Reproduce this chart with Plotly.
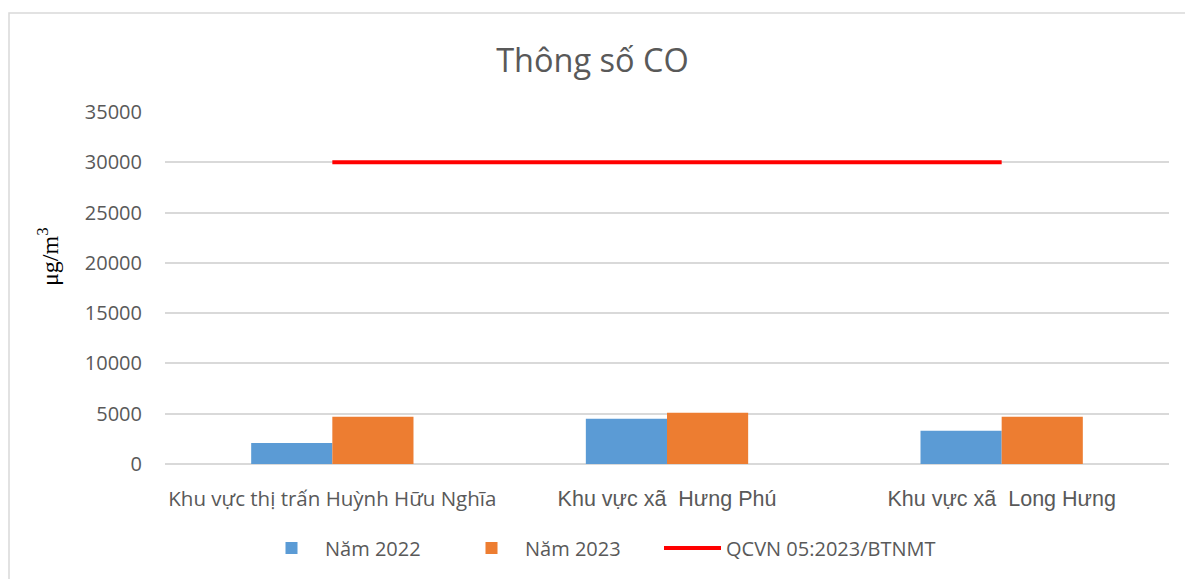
import plotly.graph_objects as go

categories = ["Khu vực thị trấn Huỳnh Hữu Nghĩa", "Khu vực xã\u00a0 Hưng Phú", "Khu vực xã\u00a0 Long Hưng"]
values_2022 = [2100, 4500, 3300]
values_2023 = [4700, 5100, 4700]
qcvn_limit = [30000, 30000, 30000]
y_ticks = [0, 5000, 10000, 15000, 20000, 25000, 30000, 35000]

W, H = 1185, 579
L, R, T, B = 165, 16, 112, 115
pw, ph = W - L - R, H - T - B

def px(x):
    return (x - L) / pw

def py(y):
    return (H - B - y) / ph

txt = "#595959"
font_family = "Open Sans"

# first label in the sans UI font, the other two in an Arial-like face (as in the reference)
tick_text = [categories[0]] + [
    '<span style="font-family:Liberation Sans;font-size:21.5px">%s</span>' % c for c in categories[1:]
]

fig = go.Figure()
fig.add_trace(go.Bar(name="Năm 2022", x=categories, y=values_2022, marker=dict(color="#5B9BD5", line=dict(width=0)),
                     legend="legend"))
fig.add_trace(go.Bar(name="Năm 2023", x=categories, y=values_2023, marker=dict(color="#ED7D31", line=dict(width=0)),
                     legend="legend"))
fig.add_trace(go.Scatter(name="QCVN 05:2023/BTNMT", x=categories, y=qcvn_limit, mode="lines",
                         line=dict(color="#FF0000", width=4), legend="legend2"))

fig.update_layout(
    width=W, height=H,
    margin=dict(l=L, r=R, t=T, b=B),
    paper_bgcolor="white", plot_bgcolor="white",
    barmode="group", bargap=0.515, bargroupgap=0,
    font=dict(family=font_family, color=txt, size=20),
    title=dict(text="Thông số CO", x=0.5, xanchor="center", y=1 - 61 / H, yanchor="middle",
               font=dict(family=font_family, size=32.5, color=txt)),
    xaxis=dict(showgrid=False, showline=False, ticks="", tickfont=dict(size=20.5, color=txt),
               tickmode="array", tickvals=categories, ticktext=tick_text, ticklabelstandoff=20),
    yaxis=dict(range=[0, 35000], tickvals=y_ticks, tickformat="d", showgrid=True, gridcolor="#D9D9D9", gridwidth=1.5,
               zeroline=True, zerolinecolor="#D9D9D9", zerolinewidth=1.5, showline=False,
               tickfont=dict(size=20, color=txt), ticklabelstandoff=22),
    legend=dict(orientation="h", x=px(258), xanchor="left", y=py(548), yanchor="middle",
                font=dict(size=20, color=txt), itemwidth=57, traceorder="normal",
                entrywidth=128, entrywidthmode="pixels"),
    legend2=dict(orientation="h", x=px(659), xanchor="left", y=py(548), yanchor="middle",
                 font=dict(size=20, color=txt), itemwidth=57),
    annotations=[dict(text="μg/m<sup>3</sup>", xref="paper", yref="paper", x=px(48), y=py(257),
                      xanchor="center", yanchor="middle", textangle=-90, showarrow=False,
                      font=dict(family="Liberation Serif", size=24, color="#000000"))],
    shapes=[dict(type="rect", xref="paper", yref="paper", x0=px(9), x1=px(1195), y0=py(590), y1=py(13),
                 line=dict(color="#D9D9D9", width=1.5), fillcolor="rgba(0,0,0,0)", layer="below")],
)

fig.write_html("out.html", config={"displayModeBar": False},
               post_script="document.body.style.margin='0px';")
